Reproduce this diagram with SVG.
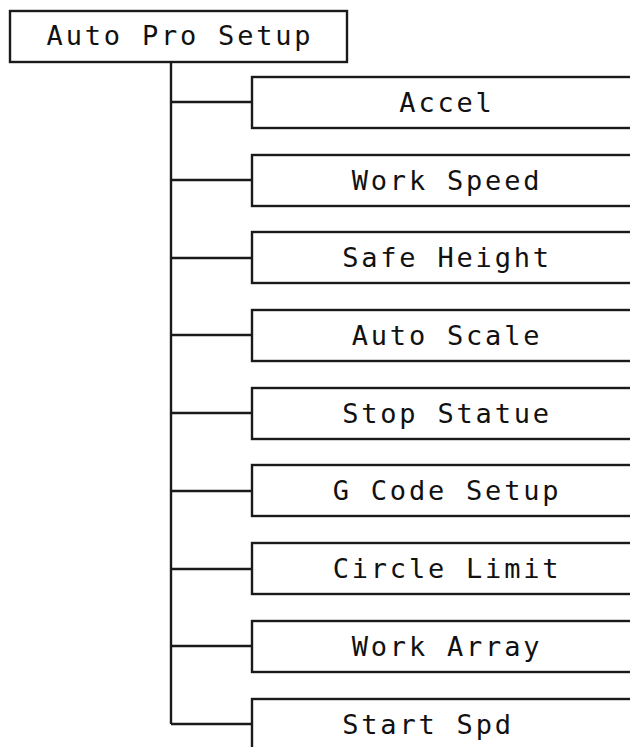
<svg xmlns="http://www.w3.org/2000/svg" width="630" height="747" viewBox="0 0 630 747">
<style>
.box{fill:#fff;stroke:#1a1a1a;stroke-width:2.4}
.ln{fill:none;stroke:#1a1a1a;stroke-width:2.4}
.t{font-family:"DejaVu Sans Mono","Liberation Mono",monospace;font-size:27px;letter-spacing:2.8px;fill:#111;text-anchor:middle}
</style>
<rect width="630" height="747" fill="#fff"/>
<g id="connectors">
<path class="ln" d="M171,62 V724"/>
<path class="ln" d="M171,102 H252 M171,180 H252 M171,258 H252 M171,335 H252 M171,413 H252 M171,491 H252 M171,569 H252 M171,646 H252 M171,724 H252"/>
</g>
<g id="root"><rect class="box" x="10" y="11" width="337" height="51"/><text class="t" x="180" y="45">Auto Pro Setup</text></g>
<g id="accel"><rect class="box" x="252" y="77" width="400" height="51"/><text class="t" x="447" y="112">Accel</text></g>
<g id="work-speed"><rect class="box" x="252" y="155" width="400" height="51"/><text class="t" x="447" y="190">Work Speed</text></g>
<g id="safe-height"><rect class="box" x="252" y="232" width="400" height="51"/><text class="t" x="447" y="267">Safe Height</text></g>
<g id="auto-scale"><rect class="box" x="252" y="310" width="400" height="51"/><text class="t" x="447" y="345">Auto Scale</text></g>
<g id="stop-statue"><rect class="box" x="252" y="388" width="400" height="51"/><text class="t" x="447" y="423">Stop Statue</text></g>
<g id="g-code-setup"><rect class="box" x="252" y="465" width="400" height="51"/><text class="t" x="447" y="500">G Code Setup</text></g>
<g id="circle-limit"><rect class="box" x="252" y="543" width="400" height="51"/><text class="t" x="447" y="578">Circle Limit</text></g>
<g id="work-array"><rect class="box" x="252" y="621" width="400" height="51"/><text class="t" x="447" y="656">Work Array</text></g>
<g id="start-spd"><rect class="box" x="252" y="699" width="400" height="60"/><text class="t" x="428" y="734">Start Spd</text></g>
</svg>
